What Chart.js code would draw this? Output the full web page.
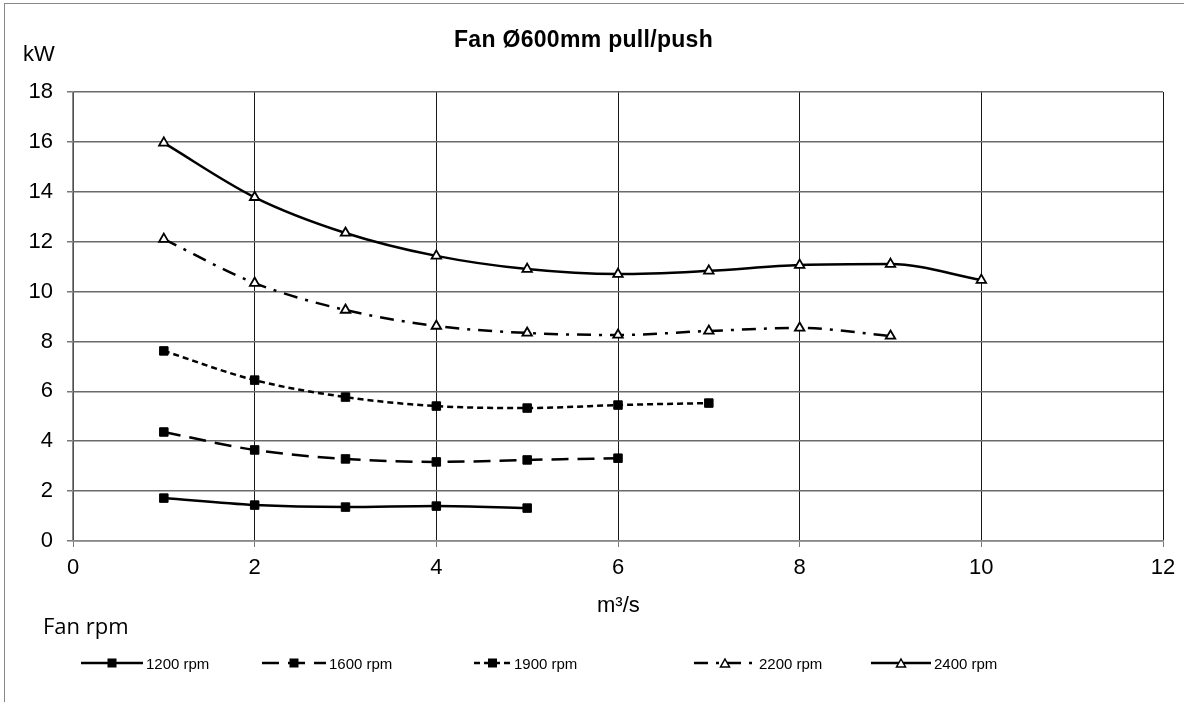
<!DOCTYPE html>
<html>
<head>
<meta charset="utf-8">
<script src="https://cdn.jsdelivr.net/npm/chart.js@4.4.1/dist/chart.umd.min.js"></script>
<style>
    body { margin: 0; background: #fff; }
    #wrap { position: relative; width: 1190px; height: 702px; overflow: hidden; font-family: Arial, "Liberation Sans", sans-serif; color: #000; }
    #frame { position: absolute; left: 4px; top: 3px; width: 1179px; height: 710px; border-left: 1px solid #888; border-top: 1px solid #888; }
    canvas { position: absolute; left: 0; top: 0; }
    .txt { position: absolute; line-height: 1; white-space: nowrap; }
    #title { left: 454px; top: 28px; font-size: 23px; font-weight: bold; letter-spacing: 0.3px; }
    #unitY { left: 23px; top: 43px; font-size: 22px; }
    #unitX { left: 597px; top: 594px; font-size: 22px; }
    #legendTitle { left: 43px; top: 614px; font-size: 22px; font-family: "Open Sans", sans-serif; }
    .item { position: absolute; top: 654px; height: 18px; display: flex; align-items: center; font-size: 15px; }
    .item svg { margin-right: 3px; }
</style>
</head>
<body>
<div id="wrap">
    <div id="frame"></div>
    <canvas id="fanChart" width="1190" height="702"></canvas>
    <div class="txt" id="title">Fan Ø600mm pull/push</div>
    <div class="txt" id="unitY">kW</div>
    <div class="txt" id="unitX">m³/s</div>
    <div class="txt" id="legendTitle">Fan rpm</div>
    <div id="legend"></div>
</div>
<script>
// flow in m3/s
var flow = [1, 2, 3, 4, 5, 6, 7, 8, 9, 10];
var seriesNames = ['1200 rpm', '1600 rpm', '1900 rpm', '2200 rpm', '2400 rpm'];
// power in kW per fan speed
var kw1200 = [1.72, 1.44, 1.36, 1.40, 1.32];
var kw1600 = [4.37, 3.65, 3.29, 3.17, 3.25, 3.32];
var kw1900 = [7.62, 6.45, 5.77, 5.41, 5.33, 5.45, 5.53];
var kw2200 = [12.10, 10.34, 9.26, 8.62, 8.34, 8.26, 8.42, 8.54, 8.22];
var kw2400 = [15.96, 13.78, 12.35, 11.43, 10.90, 10.70, 10.83, 11.06, 11.10, 10.46];
var xTicks = [0, 2, 4, 6, 8, 10, 12];
var yTicks = [0, 2, 4, 6, 8, 10, 12, 14, 16, 18];

var allValues = [kw1200, kw1600, kw1900, kw2200, kw2400];
var dashes = [[], [17, 9], [6, 4], [14, 8, 3, 8], []];
var markers = ['rect', 'rect', 'rect', 'triangle', 'triangle'];

function toPoints(vals) {
    return vals.map(function(v, i) { return { x: flow[i], y: v }; });
}

var datasets = allValues.map(function(vals, i) {
    var tri = markers[i] === 'triangle';
    return {
        label: seriesNames[i],
        data: toPoints(vals),
        borderColor: '#000',
        borderWidth: 2.5,
        borderDash: dashes[i],
        cubicInterpolationMode: 'monotone',
        pointStyle: markers[i],
        pointRadius: tri ? 5.5 : 6,
        pointBackgroundColor: tri ? '#fff' : '#000',
        pointBorderColor: '#000',
        pointBorderWidth: tri ? 1.8 : 1,
        fill: false
    };
});

var ctx = document.getElementById('fanChart').getContext('2d');
var fanChart = new Chart(ctx, {
    type: 'line',
    data: { datasets: datasets },
    options: {
        responsive: false,
        animation: false,
        layout: { padding: { top: 92, left: 0, right: 27, bottom: 121 } },
        plugins: {
            legend: { display: false },
            tooltip: { enabled: false }
        },
        scales: {
            x: {
                type: 'linear',
                min: xTicks[0],
                max: xTicks[xTicks.length - 1],
                afterBuildTicks: function(s) { s.ticks = xTicks.map(function(v) { return { value: v }; }); },
                afterFit: function(s) { s.height = 40; },
                ticks: { color: '#000', padding: 8, font: { family: 'Arial', size: 22 } },
                grid: { color: '#1a1a1a', lineWidth: 1, tickLength: 6, tickColor: '#777' },
                border: { color: '#888', width: 1.5 }
            },
            y: {
                min: yTicks[0],
                max: yTicks[yTicks.length - 1],
                afterBuildTicks: function(s) { s.ticks = yTicks.map(function(v) { return { value: v }; }); },
                afterFit: function(s) { s.width = 73; },
                ticks: { color: '#000', padding: 14, font: { family: 'Arial', size: 22 } },
                grid: { color: '#6a6a6a', lineWidth: 1.5, tickLength: 6, tickColor: '#777' },
                border: { color: '#888', width: 1.5 }
            }
        }
    }
});

// legend: line sample with marker + label
var legendLeft = [81, 262, 474, 694, 871];
var legendLine = [62, 64, 37, 62, 60];
var legend = document.getElementById('legend');
seriesNames.forEach(function(name, i) {
    var w = legendLine[i];
    var mid = w / 2;
    var dash = dashes[i].length ? ' stroke-dasharray="' + dashes[i].join(' ') + '"' : '';
    var mark = markers[i] === 'rect'
        ? '<rect x="' + (mid - 4.5) + '" y="4.5" width="9" height="9" fill="#000"/>'
        : '<polygon points="' + mid + ',5 ' + (mid + 4.5) + ',13 ' + (mid - 4.5) + ',13" fill="#fff" stroke="#000" stroke-width="1.5"/>';
    var el = document.createElement('div');
    el.className = 'item';
    el.style.left = legendLeft[i] + 'px';
    el.innerHTML = '<svg width="' + w + '" height="18"><line x1="0" y1="9" x2="' + w + '" y2="9" stroke="#000" stroke-width="2.5"' + dash + '/>' + mark + '</svg><span>' + name + '</span>';
    legend.appendChild(el);
});
</script>
</body>
</html>
